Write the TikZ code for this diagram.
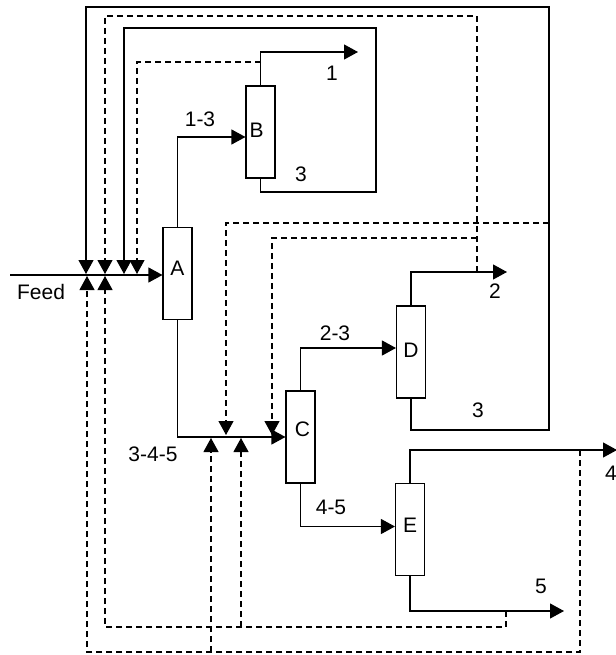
\documentclass[tikz,border=0pt]{standalone}
\usepackage{fontspec}
\setmainfont{Liberation Sans}
\usetikzlibrary{arrows.meta}
\begin{document}
\begin{tikzpicture}[x=1pt,y=-1pt,
  every node/.style={font=\fontsize{21}{24}\selectfont},
  col/.style={draw,line width=1.1pt,minimum width=29pt,minimum height=92pt,inner sep=0pt},
  flow/.style={line width=1.1pt},
  rec/.style={line width=1.1pt,dash pattern=on 6pt off 4pt},
  tip/.style={-{Triangle[length=14pt,width=15pt]}},
  lab/.style={inner sep=0pt}]
\useasboundingbox (0,0) rectangle (615,655);
% columns
\node[col,label={[yshift=5pt]center:A}] (A) at (177.5,273.5) {};
\node[col,label={[yshift=2pt,xshift=-4pt]center:B}] (B) at (260.5,132) {};
\node[col,label={[yshift=8pt,xshift=2pt]center:C}] (C) at (300.5,437) {};
\node[col,label={[yshift=2pt]center:D}] (D) at (411,352) {};
\node[col,label={[yshift=4pt]center:E}] (E) at (410,529.5) {};
% coordinates
\coordinate (feedin) at (10,275);
\coordinate (out1) at (358,52);
\coordinate (out2) at (507,272);
\coordinate (out4) at (617,450);
\coordinate (out5) at (564,611);
\coordinate (j1) at (261,62);
\coordinate (j2) at (477,272);
\coordinate (j2b) at (477,238);
\coordinate (j3) at (549,223);
\coordinate (j4) at (580,450);
\coordinate (j4b) at (211,652);
\coordinate (j5) at (506,611);
\coordinate (j5b) at (241,627);
\coordinate (a1) at (86,274);
\coordinate (a2) at (105,274);
\coordinate (a3) at (124,274);
\coordinate (a4) at (137,274);
\coordinate (u1) at (87,276);
\coordinate (u2) at (105,276);
\coordinate (c1) at (226,435);
\coordinate (c2) at (272,435);
\coordinate (c3) at (211,438);
\coordinate (c4) at (241,438);
% feed
\draw[flow,tip] (feedin) -- (A.west |- feedin);
% A -> B
\draw[flow,tip] (A.north) |- ([yshift=-5pt]B.west);
% B top -> 1
\draw[flow,tip] (B.north) |- (out1);
% B bottom recycle -> A feed
\draw[flow,tip] (B.south) -- (B.south |- 0,192) -| (376,28) -| (a3);
\draw[rec,tip] (j1) -| (a4);
% A -> C
\draw[flow,tip] (A.south) |- (C.west);
% C -> D
\draw[flow,tip] (C.north) |- ([yshift=4pt]D.west);
% D top -> 2
\draw[flow,tip] (D.north) |- (out2);
\draw[rec,tip] (j2) |- (105,16) -- (a2);
\draw[rec,tip] (j2b) -| (c2);
% D bottom -> 3 recycle
\draw[flow,tip] (D.south) |- (549,430) -- (549,7) -| (a1);
\draw[rec,tip] (j3) -| (c1);
% C -> E
\draw[flow,tip] (C.south) |- ([yshift=3pt]E.west);
% E top -> 4
\draw[flow,tip] (E.north) |- (out4);
\draw[rec,tip] (j4) |- (87,652) -- (u1);
\draw[rec,tip] (j4b) -- (c3);
% E bottom -> 5
\draw[flow,tip] (E.south) |- (out5);
\draw[rec,tip] (j5) |- (105,627) -- (u2);
\draw[rec,tip] (j5b) -- (c4);
% labels
\node[lab] (lfeed) at (41,292) {Feed};
\node[lab] (l13) at (200,119) {1-3};
\node[lab] (l1) at (332,73) {1};
\node[lab] (l3a) at (301,174) {3};
\node[lab] (l2) at (495,291) {2};
\node[lab] (l23) at (335,333) {2-3};
\node[lab] (l3b) at (478,410) {3};
\node[lab] (l345) at (153,454) {3-4-5};
\node[lab] (l45) at (331,507) {4-5};
\node[lab] (l4) at (611,473) {4};
\node[lab] (l5) at (541,586) {5};
\end{tikzpicture}
\end{document}
